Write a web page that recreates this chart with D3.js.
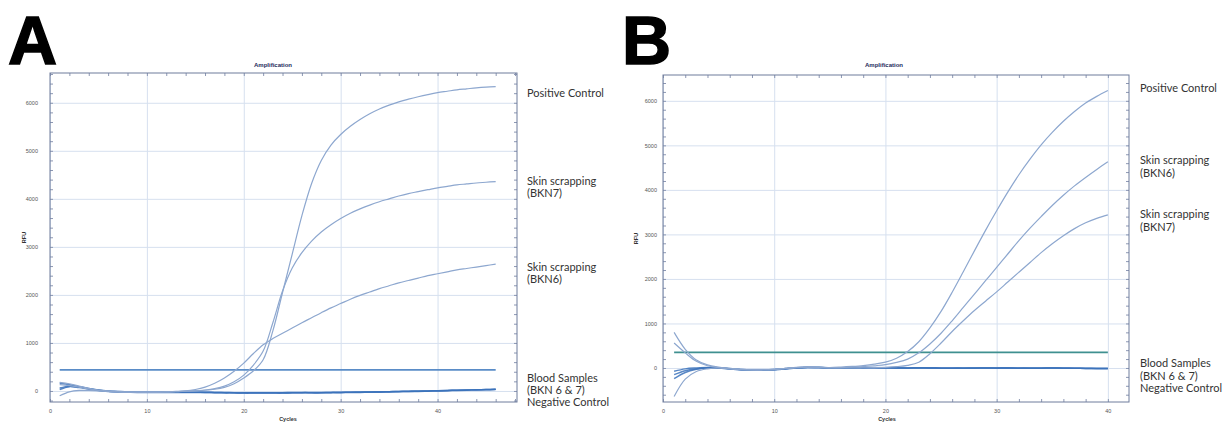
<!DOCTYPE html>
<html>
<head>
<meta charset="utf-8">
<script src="https://cdn.jsdelivr.net/npm/d3@7/dist/d3.min.js"></script>
<style>
  html, body { margin: 0; padding: 0; background: #ffffff; }
  svg { display: block; }
</style>
</head>
<body>
<svg id="chart" width="1226" height="423"></svg>
<script>
// ---------------- DATA ----------------
const cyclesA = d3.range(1, 47);   // 1..46
const cyclesB = d3.range(1, 41);   // 1..40

const xTickLabels = [0, 10, 20, 30, 40];
const yTickLabels = [0, 1000, 2000, 3000, 4000, 5000, 6000];

const thresholdA = 440;
const thresholdB = 350;

// Panel A
const posCtrlA = [180,150,100,55,20,0,-10,-20,-25,-25,-25,-20,-15,-5,5,15,35,75,150,270,
  420,650,1250,2050,2850,3650,4320,4800,5120,5340,5510,5650,5770,5870,5950,6020,6075,6125,
  6170,6210,6240,6270,6290,6310,6325,6335];
const bkn7A = [130,110,80,40,10,-10,-20,-25,-25,-25,-25,-20,-15,-5,0,20,50,100,190,330,
  540,830,1420,2080,2560,2880,3120,3310,3460,3590,3700,3790,3870,3940,4000,4060,4110,4150,
  4190,4230,4260,4290,4310,4330,4345,4360];
const bkn6A = [-100,-20,10,10,0,-10,-20,-25,-25,-25,-25,-20,-10,0,30,80,160,270,410,580,
  780,960,1090,1200,1310,1420,1525,1630,1730,1820,1910,1990,2060,2130,2190,2250,2300,2350,
  2400,2440,2480,2520,2550,2580,2610,2640];
const blood1A = [30,90,70,40,10,-10,-20,-25,-30,-30,-30,-30,-30,-30,-30,-30,-35,-40,-40,-45,
  -45,-45,-45,-45,-40,-40,-40,-40,-35,-35,-30,-30,-25,-25,-20,-15,-10,-10,-5,0,5,10,15,20,25,30];
const blood2A = [60,100,80,45,15,-5,-15,-20,-25,-25,-25,-25,-25,-25,-25,-30,-30,-35,-40,-40,
  -40,-40,-40,-40,-40,-35,-35,-35,-30,-30,-25,-25,-20,-20,-15,-10,-10,-5,0,5,10,15,20,25,30,35];
const negCtrlA = [160,130,90,50,20,0,-10,-20,-25,-25,-25,-25,-25,-25,-25,-25,-30,-30,-35,-35,
  -35,-35,-35,-35,-30,-30,-30,-30,-30,-25,-25,-20,-20,-15,-15,-10,-5,0,0,5,10,15,20,25,30,35];

// Panel B
const posCtrlB = [800,420,180,70,20,-10,-30,-40,-40,-30,-10,10,20,15,10,20,35,55,85,130,
  220,370,590,900,1270,1700,2160,2630,3090,3530,3950,4340,4690,5010,5290,5540,5760,5950,6100,6230];
const bkn6B = [560,340,150,50,10,-20,-40,-50,-45,-35,-10,15,25,20,10,10,20,30,50,75,
  125,200,340,540,780,1060,1360,1660,1960,2260,2560,2860,3140,3400,3650,3880,4090,4280,4460,4630];
const bkn7B = [-640,-250,-80,-20,0,-10,-30,-40,-40,-30,-10,10,20,15,5,0,0,5,10,15,
  30,60,130,320,560,820,1060,1290,1500,1710,1930,2150,2370,2590,2790,2970,3130,3260,3360,3440];
const blood1B = [-75,-20,0,10,0,-20,-40,-50,-45,-35,-15,5,15,10,5,0,5,10,10,5,
  0,0,5,5,0,0,-5,-5,0,0,5,0,-5,-5,0,0,-5,-5,-10,-10];
const blood2B = [-240,-100,-30,0,5,-15,-35,-45,-45,-40,-20,0,10,10,5,0,0,5,5,0,
  0,-5,0,0,-5,-5,-5,0,0,0,0,-5,-5,-5,0,-5,-5,-10,-10,-10];
const negCtrlB = [-150,-60,-20,0,0,-20,-40,-50,-50,-40,-20,0,10,10,0,0,0,0,5,5,
  0,0,0,-5,-5,-5,0,0,0,-5,-5,-5,0,0,0,-5,-5,-10,-10,-10];

const labelsA = [
  ["Positive Control"],
  ["Skin scrapping", "(BKN7)"],
  ["Skin scrapping", "(BKN6)"],
  ["Blood Samples", "(BKN 6 & 7)", "Negative Control"]
];
const labelsB = [
  ["Positive Control"],
  ["Skin scrapping", "(BKN6)"],
  ["Skin scrapping", "(BKN7)"],
  ["Blood Samples", "(BKN 6 & 7)", "Negative Control"]
];

// ---------------- DRAW ----------------
const svg = d3.select("#chart");
const AMP_COLOR = "#8da7cf";
const BASE_COLOR = "#3b72bb";

function drawPanel(cfg) {
  const x = d3.scaleLinear().domain(cfg.xDomain).range([cfg.left, cfg.right]);
  const y = d3.scaleLinear().domain(cfg.yDomain).range([cfg.bottom, cfg.top]);
  const g = svg.append("g");
  const w = cfg.right - cfg.left, h = cfg.bottom - cfg.top;

  // panel letter
  g.append("text").attr("x", cfg.letterX).attr("y", 64)
    .attr("font-family", "'Liberation Sans', Arial, sans-serif")
    .attr("font-weight", "bold").attr("font-size", 68).attr("fill", "#000")
    .attr("stroke", "#000").attr("stroke-width", 1.5)
    .text(cfg.letter);

  // title
  g.append("text").attr("x", cfg.titleX).attr("y", 67)
    .attr("text-anchor", "middle")
    .attr("font-family", "'Liberation Sans', Arial, sans-serif")
    .attr("font-weight", "bold").attr("font-size", 6).attr("fill", "#1d2b5c")
    .text("Amplification");

  // gridlines
  g.append("g").attr("transform", `translate(0,${cfg.bottom})`)
    .call(d3.axisBottom(x).tickValues(xTickLabels).tickSize(-h).tickFormat(""))
    .call(s => s.select(".domain").remove())
    .call(s => s.selectAll("line").attr("stroke", "#d6e0ef").attr("stroke-width", 1));
  g.append("g").attr("transform", `translate(${cfg.left},0)`)
    .call(d3.axisLeft(y).tickValues(yTickLabels).tickSize(-w).tickFormat(""))
    .call(s => s.select(".domain").remove())
    .call(s => s.selectAll("line").attr("stroke", "#d6e0ef").attr("stroke-width", 1));

  // minor ticks on all borders (inward)
  const xMinor = d3.range(0, cfg.xDomain[1], 2);
  const yMinor = d3.range(Math.ceil(cfg.yDomain[0] / 200) * 200, cfg.yDomain[1], 200);
  const tickCol = "#8c97b3";
  g.append("g").attr("transform", `translate(0,${cfg.bottom})`)
    .call(d3.axisTop(x).tickValues(xMinor).tickSize(3).tickFormat(""))
    .call(s => s.select(".domain").remove())
    .call(s => s.selectAll("line").attr("stroke", tickCol));
  g.append("g").attr("transform", `translate(0,${cfg.top})`)
    .call(d3.axisBottom(x).tickValues(xMinor).tickSize(3).tickFormat(""))
    .call(s => s.select(".domain").remove())
    .call(s => s.selectAll("line").attr("stroke", tickCol));
  g.append("g").attr("transform", `translate(${cfg.left},0)`)
    .call(d3.axisRight(y).tickValues(yMinor).tickSize(3).tickFormat(""))
    .call(s => s.select(".domain").remove())
    .call(s => s.selectAll("line").attr("stroke", tickCol));
  g.append("g").attr("transform", `translate(${cfg.right},0)`)
    .call(d3.axisLeft(y).tickValues(yMinor).tickSize(3).tickFormat(""))
    .call(s => s.select(".domain").remove())
    .call(s => s.selectAll("line").attr("stroke", tickCol));

  // tick labels
  g.append("g").attr("transform", `translate(${cfg.left},0)`)
    .call(d3.axisLeft(y).tickValues(yTickLabels).tickSize(0).tickPadding(cfg.yPad).tickFormat(d3.format("d")))
    .call(s => s.select(".domain").remove())
    .call(s => s.selectAll("text").attr("font-size", 5.5).attr("fill", "#555")
      .attr("font-family", "'Liberation Sans', Arial, sans-serif"));
  g.append("g").attr("transform", `translate(0,${cfg.bottom})`)
    .call(d3.axisBottom(x).tickValues(xTickLabels).tickSize(0).tickPadding(7).tickFormat(d3.format("d")))
    .call(s => s.select(".domain").remove())
    .call(s => s.selectAll("text").attr("font-size", 5.5).attr("fill", "#555")
      .attr("font-family", "'Liberation Sans', Arial, sans-serif"));

  // axis titles
  g.append("text").attr("transform", `translate(${cfg.rfuX},${(cfg.top + cfg.bottom) / 2}) rotate(-90)`)
    .attr("text-anchor", "middle").attr("font-size", 5.5).attr("font-weight", "bold")
    .attr("font-family", "'Liberation Sans', Arial, sans-serif").attr("fill", "#333").text("RFU");
  g.append("text").attr("x", cfg.cyclesX).attr("y", 421)
    .attr("text-anchor", "middle").attr("font-size", 5.5).attr("font-weight", "bold")
    .attr("font-family", "'Liberation Sans', Arial, sans-serif").attr("fill", "#333").text("Cycles");

  // frame
  g.append("rect").attr("x", cfg.left).attr("y", cfg.top).attr("width", w).attr("height", h)
    .attr("fill", "none").attr("stroke", "#6f7c9c").attr("stroke-width", 1);

  // curves
  const line = d3.line().x(d => x(d[0])).y(d => y(d[1])).curve(d3.curveCatmullRom.alpha(0.5));
  const cycles = cfg.cycles;
  // threshold
  g.append("path").datum([[cycles[0], cfg.threshold], [cycles[cycles.length - 1], cfg.threshold]])
    .attr("d", line).attr("fill", "none").attr("stroke", cfg.thresholdColor).attr("stroke-width", 1.8);
  cfg.baseSeries.forEach(s => {
    g.append("path").datum(cycles.map((c, i) => [c, s[i]]))
      .attr("d", line).attr("fill", "none").attr("stroke", BASE_COLOR)
      .attr("stroke-width", 1.5).attr("stroke-opacity", 0.85);
  });
  cfg.ampSeries.forEach(s => {
    g.append("path").datum(cycles.map((c, i) => [c, s[i]]))
      .attr("d", line).attr("fill", "none").attr("stroke", AMP_COLOR).attr("stroke-width", 1.2);
  });

  // right labels
  cfg.labels.forEach((lines, k) => {
    lines.forEach((t, j) => {
      g.append("text").attr("x", cfg.labelX).attr("y", cfg.labelY[k] + j * cfg.lineH)
        .attr("font-family", "Lato, 'Open Sans', sans-serif").attr("font-size", 11)
        .attr("fill", "#333").text(t);
    });
  });
}

drawPanel({
  letter: "A", letterX: 8, titleX: 273,
  left: 50, right: 517, top: 73, bottom: 402,
  xDomain: [0, 48.2], yDomain: [-230, 6620], yPad: 12,
  rfuX: 26, cyclesX: 288,
  cycles: cyclesA, threshold: thresholdA, thresholdColor: "#5a8cc7",
  baseSeries: [blood1A, blood2A, negCtrlA],
  ampSeries: [posCtrlA, bkn7A, bkn6A],
  labels: labelsA, labelX: 527, labelY: [97, 185, 271, 382], lineH: 12
});

drawPanel({
  letter: "B", letterX: 622, titleX: 884,
  left: 663, right: 1129, top: 75, bottom: 402,
  xDomain: [0, 41.9], yDomain: [-764, 6580], yPad: 6,
  rfuX: 638, cyclesX: 887,
  cycles: cyclesB, threshold: thresholdB, thresholdColor: "#3f9090",
  baseSeries: [blood1B, blood2B, negCtrlB],
  ampSeries: [posCtrlB, bkn6B, bkn7B],
  labels: labelsB, labelX: 1140, labelY: [92, 164, 218, 367], lineH: 12.5
});
</script>
</body>
</html>
